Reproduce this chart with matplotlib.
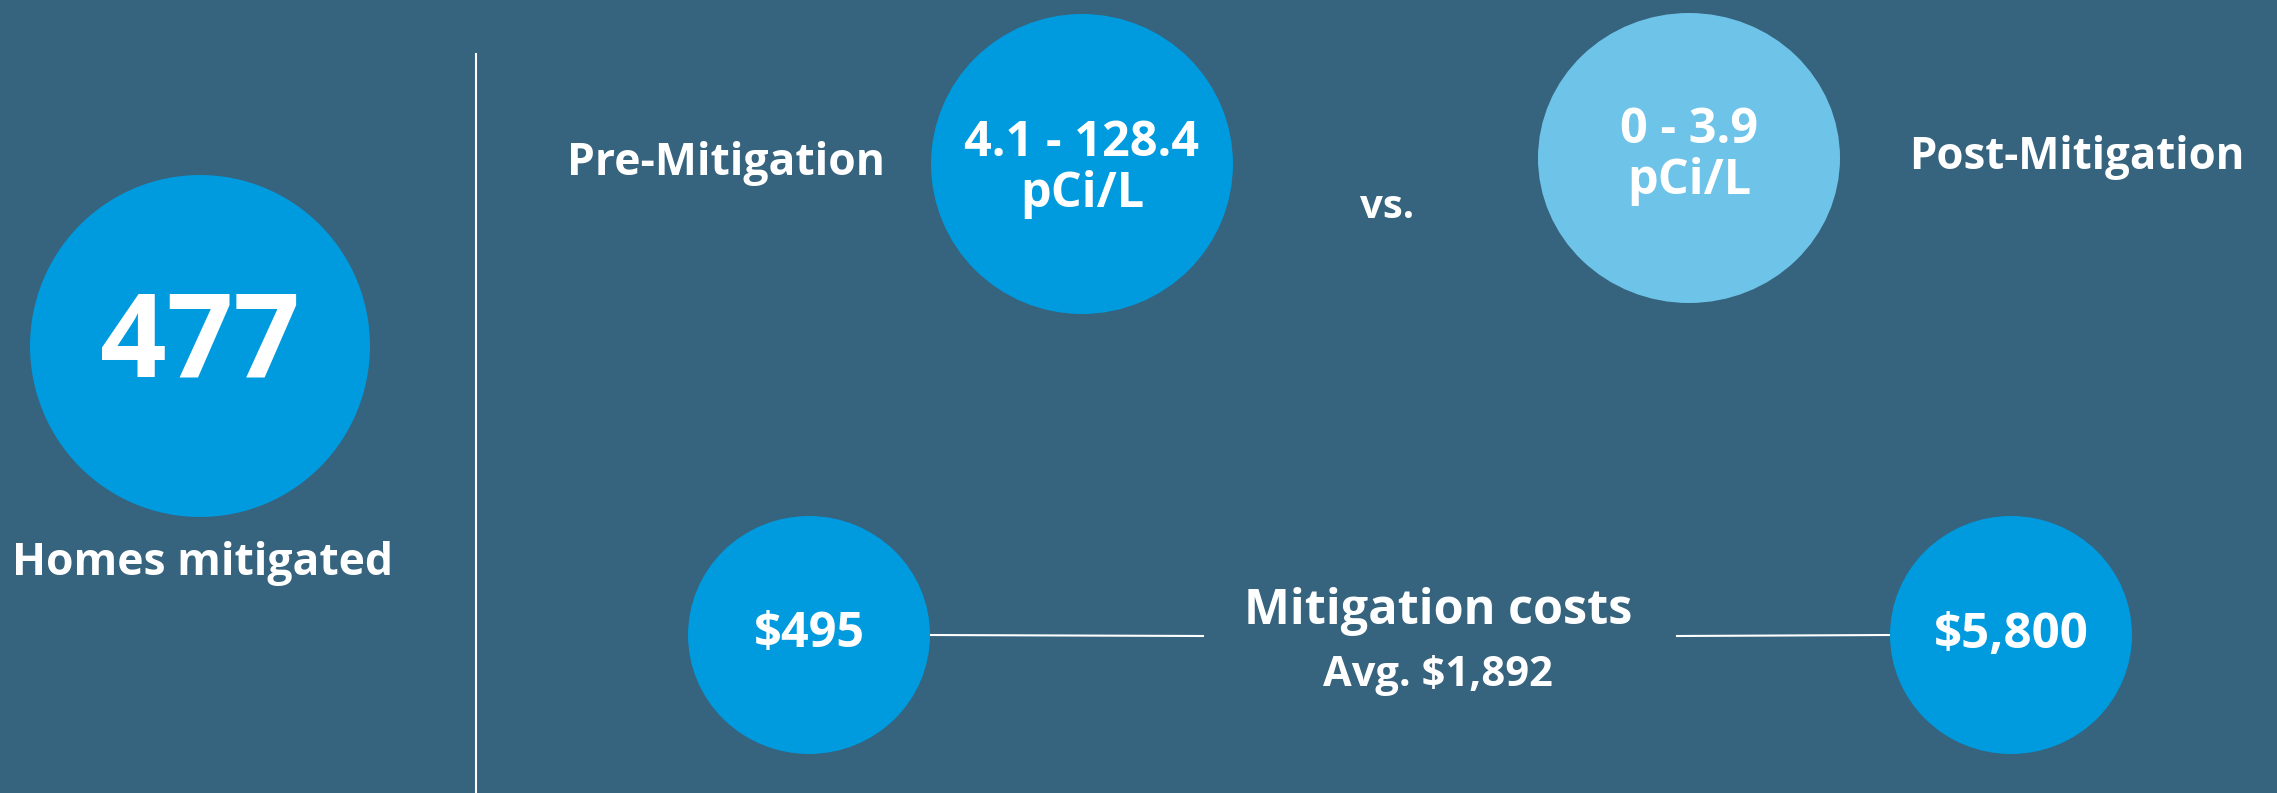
import matplotlib.pyplot as plt
from matplotlib.patches import Ellipse

plt.rcParams['font.family'] = ['Open Sans', 'DejaVu Sans']

bg = '#36637d'
blue = '#009ade'
light = '#6ec3e8'

# values shown in the infographic
homes = '477'
homes_label = 'Homes mitigated'
pre_range = '4.1 - 128.4\npCi/L'
post_range = '0 - 3.9\npCi/L'
cost_min = '$495'
cost_max = '$5,800'
cost_avg = 'Avg. $1,892'

W, H = 2277, 793
fig = plt.figure(figsize=(W / 100, H / 100), dpi=100)
fig.patch.set_facecolor(bg)
ax = fig.add_axes([0, 0, 1, 1])
ax.set_xlim(0, W)
ax.set_ylim(H, 0)
ax.axis('off')
ax.set_facecolor(bg)

def bubble(x, y, w, h, color, text, size, ty=None):
    ax.add_patch(Ellipse((x, y), w, h, color=color, lw=0))
    ax.text(x, y if ty is None else ty, text, color='white', fontsize=size,
            fontweight='bold', ha='center', va='center', linespacing=1.05)

# left panel
bubble(200, 346, 340, 342, blue, homes, 84)
ax.text(203, 564, homes_label, color='white', fontsize=32, fontweight='bold',
        ha='center', va='center')
ax.plot([476, 476], [54, H], color='white', lw=1.5)

# pre / post
ax.text(726, 163, 'Pre-Mitigation', color='white', fontsize=32, fontweight='bold',
        ha='center', va='center')
bubble(1082, 164, 302, 300, blue, pre_range, 35, ty=169)
ax.text(1387, 207, 'vs.', color='white', fontsize=29, fontweight='bold',
        ha='center', va='center')
bubble(1689, 158, 302, 290, light, post_range, 35, ty=156)
ax.text(2077, 157, 'Post-Mitigation', color='white', fontsize=31.5, fontweight='bold',
        ha='center', va='center')

# costs
ax.plot([930, 1203], [635, 636], color='white', lw=1.5, zorder=0)
ax.plot([1677, 1890], [636, 635], color='white', lw=1.5, zorder=0)
bubble(809, 635, 242, 238, blue, cost_min, 35)
bubble(2011, 635, 242, 238, blue, cost_max, 35.5)
ax.text(1438, 611, 'Mitigation costs', color='white', fontsize=35, fontweight='bold',
        ha='center', va='center')
ax.text(1438, 676, cost_avg, color='white', fontsize=30, fontweight='bold',
        ha='center', va='center')

fig.savefig('out.png', dpi=100, facecolor=bg)
